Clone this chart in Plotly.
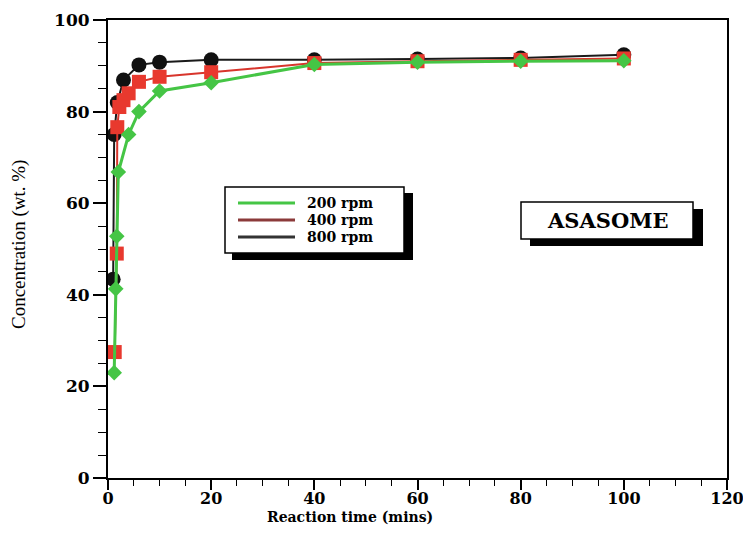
import plotly.graph_objects as go

# ---- data ----
series_names = ["200 rpm", "400 rpm", "800 rpm"]

time_200 = [1.2, 1.5, 1.7, 2.0, 4, 6, 10, 20, 40, 60, 80, 100]
conc_200 = [23.0, 41.3, 52.8, 66.8, 75.0, 80.0, 84.5, 86.3, 90.3, 90.8, 91.0, 91.1]

time_400 = [1.3, 1.7, 1.8, 2.2, 3.0, 4, 6, 10, 20, 40, 60, 80, 100]
conc_400 = [27.5, 49.0, 76.6, 81.0, 82.5, 84.0, 86.5, 87.6, 88.6, 90.6, 91.0, 91.3, 91.6]

time_800 = [1.0, 1.2, 1.8, 3.0, 6, 10, 20, 40, 60, 80, 100]
conc_800 = [43.4, 75.0, 82.0, 86.9, 90.2, 90.8, 91.3, 91.3, 91.5, 91.7, 92.4]

x_ticks = [0, 20, 40, 60, 80, 100, 120]
y_ticks = [0, 20, 40, 60, 80, 100]

line_colors = ["#45c545", "#d8352c", "#1a1a1a"]
legend_line_colors = ["#45c545", "#8b3a3a", "#333333"]
marker_colors = ["#45c545", "#e8392e", "#111111"]
marker_symbols = ["diamond", "square", "circle"]
marker_sizes = [12, 14, 15]
line_widths = [3, 2, 2]

FONT = "DejaVu Serif"

fig = go.Figure()

data = [(time_200, conc_200), (time_400, conc_400), (time_800, conc_800)]
for i in [2, 1, 0]:
    t, c = data[i]
    fig.add_trace(go.Scatter(
        x=t, y=c, mode="lines+markers", name=series_names[i], showlegend=False,
        line=dict(color=line_colors[i], width=line_widths[i]),
        marker=dict(color=marker_colors[i], symbol=marker_symbols[i], size=marker_sizes[i],
                    line=dict(width=0)),
    ))

# ---- helpers for paper coordinates from pixel positions ----
L, R, T, B = 108, 16, 20, 70
W, H = 743, 548
PW, PH = W - L - R, H - T - B

def px(xp):
    return (xp - L) / PW

def py(yp):
    return (H - B - yp) / PH

shapes = []
annotations = []

# legend box with shadow
shapes.append(dict(type="rect", xref="paper", yref="paper",
                   x0=px(232), x1=px(413), y0=py(260), y1=py(193),
                   fillcolor="black", line=dict(width=0), layer="above"))
shapes.append(dict(type="rect", xref="paper", yref="paper",
                   x0=px(225), x1=px(404), y0=py(253), y1=py(187),
                   fillcolor="white", line=dict(color="black", width=1.5), layer="above"))
row_y = [203, 220, 237]
for i in range(3):
    shapes.append(dict(type="line", xref="paper", yref="paper",
                       x0=px(238), x1=px(295), y0=py(row_y[i]), y1=py(row_y[i]),
                       line=dict(color=legend_line_colors[i], width=3), layer="above"))
    annotations.append(dict(xref="paper", yref="paper", x=px(305), y=py(row_y[i]),
                            text=series_names[i], showarrow=False, xanchor="left", yanchor="middle",
                            font=dict(family=FONT, size=14, color="black", weight="bold")))

# ASASOME box with shadow
shapes.append(dict(type="rect", xref="paper", yref="paper",
                   x0=px(530), x1=px(703), y0=py(246), y1=py(209),
                   fillcolor="black", line=dict(width=0), layer="above"))
shapes.append(dict(type="rect", xref="paper", yref="paper",
                   x0=px(521), x1=px(693), y0=py(239), y1=py(202),
                   fillcolor="white", line=dict(color="black", width=1.5), layer="above"))
annotations.append(dict(xref="paper", yref="paper", x=px(607), y=py(221),
                        text="ASASOME", showarrow=False, xanchor="center", yanchor="middle",
                        font=dict(family=FONT, size=21, color="black", weight="bold")))

# axis titles
annotations.append(dict(xref="paper", yref="paper", x=px(19), y=py(245),
                        text="Concentration (wt. %)", showarrow=False, textangle=-90,
                        xanchor="center", yanchor="middle",
                        font=dict(family="Liberation Serif", size=19, color="black")))
annotations.append(dict(xref="paper", yref="paper", x=px(350), y=py(517),
                        text="Reaction time (mins)", showarrow=False,
                        xanchor="center", yanchor="middle",
                        font=dict(family=FONT, size=14, color="black", weight="bold")))

fig.update_layout(
    width=W, height=H,
    margin=dict(l=L, r=R, t=T, b=B, autoexpand=False),
    paper_bgcolor="white", plot_bgcolor="white",
    shapes=shapes, annotations=annotations,
    showlegend=False,
    xaxis=dict(
        range=[0, 120], tickmode="array", tickvals=x_ticks, ticktext=[str(v) for v in x_ticks],
        ticks="outside", ticklen=10, tickwidth=1.5, tickcolor="black",
        minor=dict(dtick=5, ticks="outside", ticklen=6, tickwidth=1.2, tickcolor="black"),
        showline=True, linecolor="black", linewidth=2, mirror=True,
        showgrid=False, zeroline=False, ticklabeloverflow="allow", automargin=False,
        ticklabelstandoff=-5,
        tickfont=dict(family=FONT, size=16, color="black", weight="bold"),
    ),
    yaxis=dict(
        range=[0, 100], tickmode="array", tickvals=y_ticks, ticktext=[str(v) for v in y_ticks],
        ticks="outside", ticklen=13, tickwidth=1.5, tickcolor="black",
        minor=dict(dtick=5, ticks="outside", ticklen=8, tickwidth=1.2, tickcolor="black"),
        showline=True, linecolor="black", linewidth=2, mirror=True,
        showgrid=False, zeroline=False, ticklabeloverflow="allow", automargin=False,
        tickfont=dict(family=FONT, size=17, color="black", weight="bold"),
    ),
)

fig.write_html("out.html")
